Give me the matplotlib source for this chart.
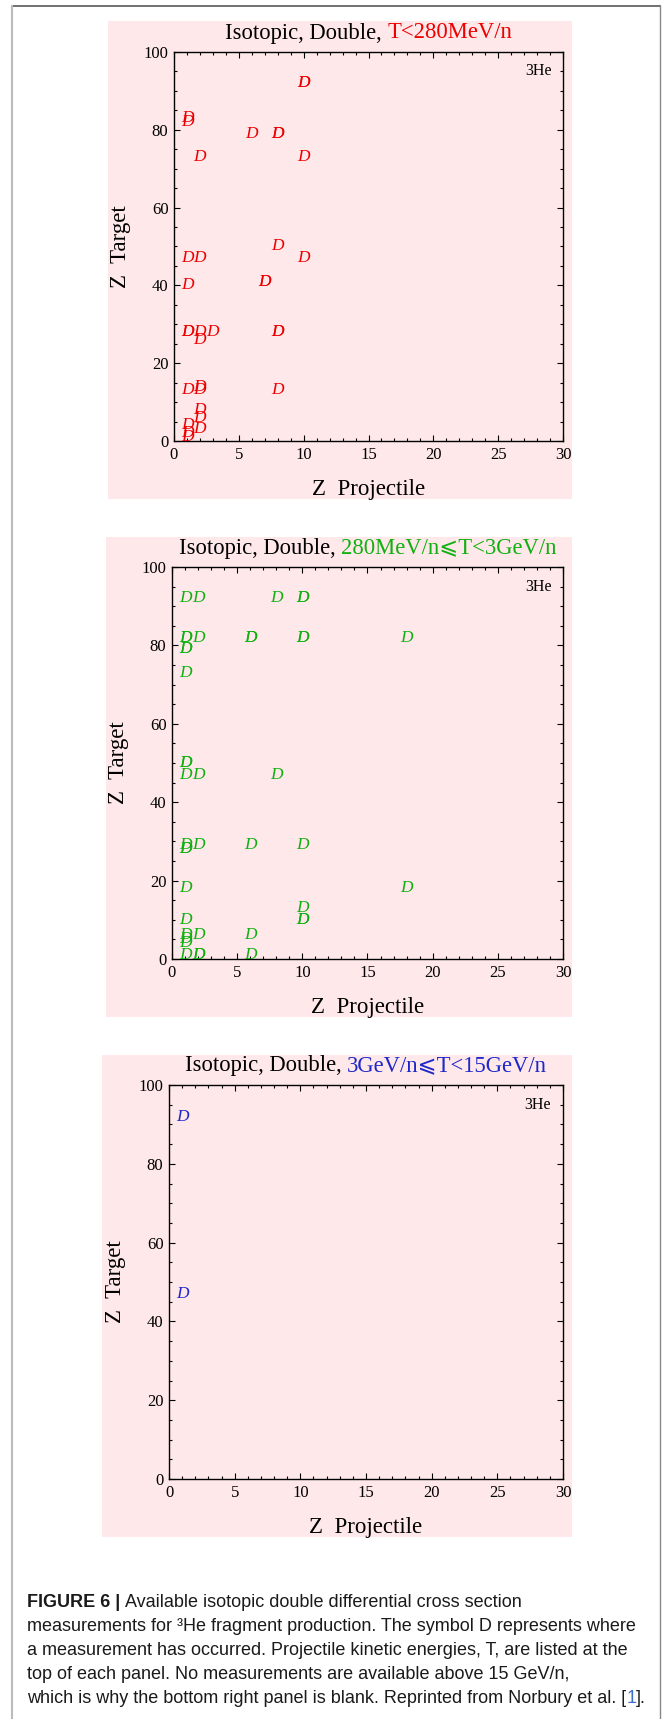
import matplotlib
matplotlib.use("Agg")
import matplotlib.pyplot as plt
from matplotlib.patches import Rectangle
from matplotlib.lines import Line2D
from matplotlib.ticker import MultipleLocator

W, H = 669, 1719
plt.rcParams['font.family'] = ['Liberation Serif', 'DejaVu Serif', 'DejaVu Sans']

# Z projectile / Z target of each "D" (repeats = stacked measurements)
red_zp = [10, 10, 1, 1, 6, 8, 8, 2, 10, 8, 1, 2, 10, 1, 7, 7, 1, 1, 2, 2, 3, 8, 8,
          1, 2, 2, 8, 2, 2, 1, 2, 1, 1]
red_zt = [92, 92, 83, 82, 79, 79, 79, 73, 73, 50, 47, 47, 47, 40, 41, 41, 28, 28, 28, 26, 28, 28, 28,
          13, 13, 14, 13, 8, 6, 4, 3, 2, 1]

green_zp = [1, 2, 8, 10, 10, 1, 1, 2, 6, 6, 10, 10, 18, 1, 1, 1, 1, 1, 1, 2, 8,
            1, 1, 1, 2, 6, 10, 1, 18, 10, 10, 10, 1, 1, 1, 1, 2, 6, 1, 2, 2, 6]
green_zt = [92, 92, 92, 92, 92, 82, 82, 82, 82, 82, 82, 82, 82, 79, 79, 73, 50, 50, 47, 47, 47,
            29, 28, 28, 29, 29, 29, 18, 18, 13, 10, 10, 10, 6, 5, 4, 6, 6, 1, 1, 1, 1]

blue_zp = [1, 1]
blue_zt = [92, 47]

titles = ["T<280MeV/n", "280MeV/n⩽T<3GeV/n", "3GeV/n⩽T<15GeV/n"]
colors = ["#ee0000", "#10b010", "#1e28c8"]
series = [(red_zp, red_zt), (green_zp, green_zt), (blue_zp, blue_zt)]

# pixel boxes: pink panel (x0, y0, x1, y1) and axes (x0, y0, x1, y1)
panel_px = [(108, 21, 572, 499), (106, 537, 572, 1017), (102, 1055, 572, 1537)]
axes_px = [(174, 52, 563, 441), (172, 567, 563, 959), (169, 1085, 563, 1479)]

pink = "#fee8ea"

fig = plt.figure(figsize=(W / 100, H / 100), dpi=100)
r = fig.canvas.get_renderer()


def fx(px):
    return px / W


def fy(py):
    return 1 - py / H


# outer frame
fig.add_artist(Line2D([fx(12), fx(660)], [fy(6.5), fy(6.5)], color="#666666", lw=1.3))
fig.add_artist(Line2D([fx(12), fx(12)], [fy(6), 0], color="#bbbbbb", lw=1.5))
fig.add_artist(Line2D([fx(660), fx(660)], [fy(6), 0], color="#888888", lw=1.0))

for i in range(3):
    px0, py0, px1, py1 = panel_px[i]
    fig.add_artist(Rectangle((fx(px0), fy(py1)), (px1 - px0) / W, (py1 - py0) / H,
                             transform=fig.transFigure, facecolor=pink, edgecolor="none", zorder=0))
    ax0, ay0, ax1, ay1 = axes_px[i]
    ax = fig.add_axes([fx(ax0), fy(ay1), (ax1 - ax0) / W, (ay1 - ay0) / H])
    ax.set_facecolor(pink)
    ax.set_xlim(0, 30)
    ax.set_ylim(0, 100)
    ax.xaxis.set_major_locator(MultipleLocator(5))
    ax.xaxis.set_minor_locator(MultipleLocator(1))
    ax.yaxis.set_major_locator(MultipleLocator(20))
    ax.yaxis.set_minor_locator(MultipleLocator(5))
    ax.tick_params(which="both", direction="in", top=True, right=True, width=0.8,
                   labelsize=12, colors="black")
    ax.tick_params(which="major", length=4.5, pad=4)
    ax.tick_params(which="minor", length=2.3)
    for s in ax.spines.values():
        s.set_linewidth(1.0)
    ax.set_xlabel("Z  Projectile", fontsize=16.5, labelpad=12)
    ax.set_ylabel("Z  Target", fontsize=16.5, labelpad=9)
    ax.text(0.97, 0.95, "3He", transform=ax.transAxes, ha="right", va="center", fontsize=11.5)

    zp, zt = series[i]
    for xv, yv in zip(zp, zt):
        ax.text(xv, yv, "D", color=colors[i], fontstyle="italic", fontsize=12.5,
                ha="center", va="center", clip_on=True)

    # two-colour title centred over the axes
    t1 = fig.text(0, fy(ay0 - 19), "Isotopic, Double, ", fontsize=16.3, va="center")
    t2 = fig.text(0, fy(ay0 - 19), titles[i], fontsize=16.3, va="center", color=colors[i])
    w1 = t1.get_window_extent(r).width
    w2 = t2.get_window_extent(r).width
    xc = (ax0 + ax1) / 2
    t1.set_x(fx(xc - (w1 + w2) / 2))
    t2.set_x(fx(xc - (w1 + w2) / 2 + w1))

# caption
cap_font = dict(family="Liberation Sans", fontsize=13.0, color="#1a1a1a", va="center")
lines = ["measurements for ³He fragment production. The symbol D represents where",
         "a measurement has occurred. Projectile kinetic energies, T, are listed at the",
         "top of each panel. No measurements are available above 15 GeV/n,"]
x0 = fx(27)
b = fig.text(x0, fy(1602), "FIGURE 6 | ", fontweight="bold", **cap_font)
bw = b.get_window_extent(r).width
fig.text(fx(27 + bw), fy(1602), "Available isotopic double differential cross section", **cap_font)
for k, line in enumerate(lines):
    fig.text(x0, fy(1626 + 24 * k), line, **cap_font)
p1 = fig.text(x0, fy(1698), "which is why the bottom right panel is blank. Reprinted from Norbury et al. [",
              **cap_font)
pw = p1.get_window_extent(r).width
p2 = fig.text(fx(27 + pw), fy(1698), "1", **{**cap_font, "color": "#3c6ec8"})
p2w = p2.get_window_extent(r).width
fig.text(fx(27 + pw + p2w), fy(1698), "].", **cap_font)

fig.savefig("out.png", dpi=100)
